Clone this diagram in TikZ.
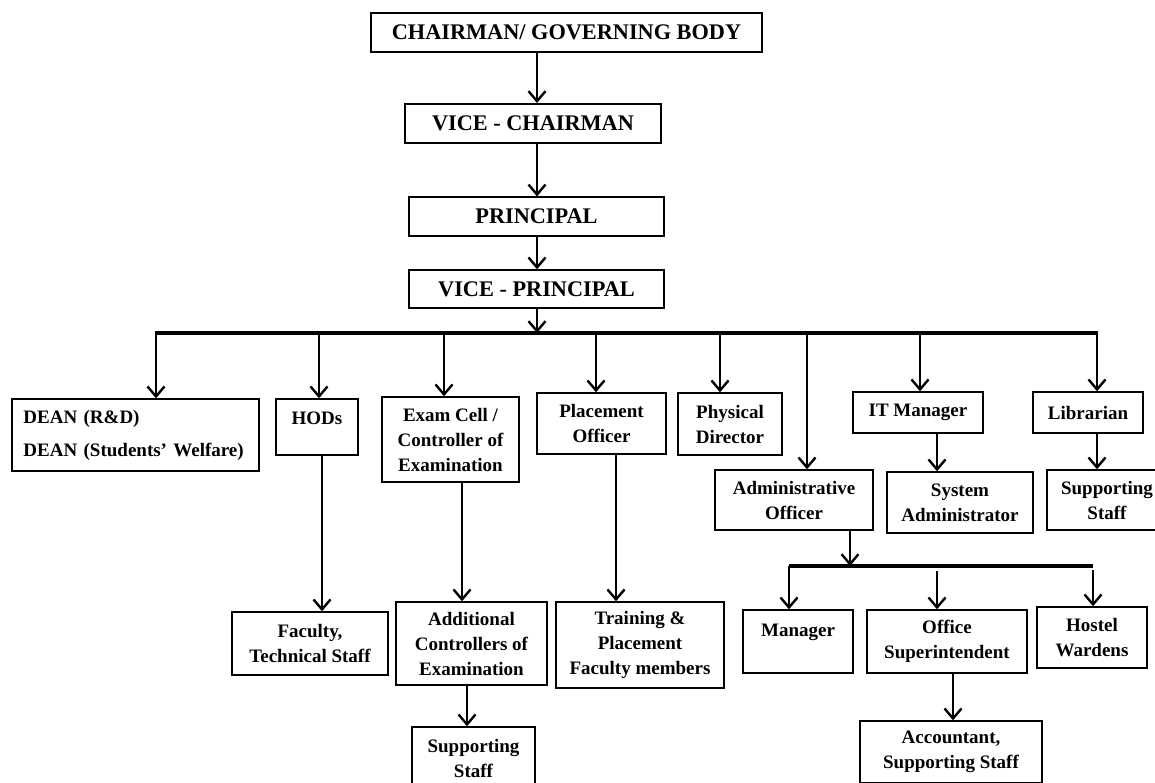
\documentclass[tikz,border=0pt]{standalone}
\usepackage{fontspec}
\setmainfont{Liberation Serif}
\usetikzlibrary{arrows.meta}
\begin{document}
\begin{tikzpicture}[x=1pt,y=-1pt,
  box/.style={draw, line width=1.4pt, inner sep=0pt, align=center,
    font=\bfseries\fontsize{19}{25}\selectfont},
  topbox/.style={box, font=\bfseries\fontsize{22.3}{26}\selectfont},
  arr/.style={line width=2.6pt, -{Straight Barb[length=10pt,width=17pt,line width=2.4pt]}},
  bus/.style={line width=3.2pt},
]
\useasboundingbox (0,0) rectangle (1155,782);
% top chain
\node[topbox, line width=2.6pt, minimum width=391, minimum height=39] (chair) at (566.5,32.5) {CHAIRMAN/ GOVERNING BODY};
\node[topbox, line width=2pt, minimum width=256, minimum height=39] (vchair) at (533,123.5) {VICE - CHAIRMAN};
\node[topbox, line width=1.2pt, minimum width=255, minimum height=39] (prin) at (536.5,216.5) {PRINCIPAL};
\node[topbox, line width=1.4pt, minimum width=255, minimum height=38] (vp) at (536.5,289) {VICE - PRINCIPAL};
% second row
\node[box, minimum width=247, minimum height=72, text width=232pt, align=left,
  font=\bfseries\fontsize{19}{33}\selectfont] (dean) at (135.5,435) {\hspace*{4pt}DEAN (R\&D)\\\hspace*{4pt}DEAN (Students’ Welfare)};
\node[box, minimum width=82, minimum height=56, text height=14pt, text depth=20pt] (hods) at (317,427) {HODs};
\node[box, minimum width=137, minimum height=85] (exam) at (450.5,439.5) {Exam Cell /\\Controller of\\Examination};
\node[box, minimum width=129, minimum height=61] (place) at (601.5,423.5) {Placement\\Officer};
\node[box, minimum width=104, minimum height=62] (phys) at (730,424) {Physical\\Director};
\node[box, minimum width=158, minimum height=60] (admin) at (794,500) {Administrative\\Officer};
\node[box, minimum width=130, minimum height=41] (itm) at (918,412.5) {IT Manager};
\node[box, minimum width=146, minimum height=61] (sysad) at (960,502.5) {System\\Administrator};
\node[box, minimum width=110, minimum height=41] (lib) at (1088,412.5) {Librarian};
\node[box, minimum width=120, minimum height=60] (suppR) at (1107,500) {Supporting\\Staff};
% third row
\node[box, minimum width=156, minimum height=63] (fac) at (310,643.5) {Faculty,\\Technical Staff};
\node[box, minimum width=151, minimum height=83] (addl) at (471.5,643.5) {Additional\\Controllers of\\Examination};
\node[box, minimum width=168, minimum height=86] (train) at (640,645) {Training \&\\Placement\\Faculty members};
\node[box, minimum width=123, minimum height=62] (suppB) at (473.5,758) {Supporting\\Staff};
\node[box, minimum width=110, minimum height=63, text height=14pt, text depth=24pt] (mgr) at (798,641.5) {Manager};
\node[box, minimum width=160, minimum height=63] (os) at (947,641.5) {Office\\Superintendent};
\node[box, minimum width=110, minimum height=61] (host) at (1092,637.5) {Hostel\\Wardens};
\node[box, minimum width=182, minimum height=62] (acct) at (951,752) {Accountant,\\Supporting Staff};
% top chain connectors
\coordinate (cx) at (537,0);
\draw[arr] (cx |- chair.south) -- (cx |- vchair.north);
\draw[arr] (cx |- vchair.south) -- (cx |- prin.north);
\draw[arr] (cx |- prin.south) -- (cx |- vp.north);
% main bus
\coordinate (busL) at (155,333);
\coordinate (busR) at (1098,333);
\draw[bus] (busL) -- (busR);
\draw[arr] (cx |- vp.south) -- (cx |- busL);
\coordinate (b1) at (156,333);
\coordinate (b2) at (319,333);
\coordinate (b3) at (444,333);
\coordinate (b4) at (596,333);
\coordinate (b5) at (720,333);
\coordinate (b6) at (807,333);
\coordinate (b7) at (920,333);
\coordinate (b8) at (1097,333);
\draw[arr] (b1) -- (b1 |- dean.north);
\draw[arr] (b2) -- (b2 |- hods.north);
\draw[arr] (b3) -- (b3 |- exam.north);
\draw[arr] (b4) -- (b4 |- place.north);
\draw[arr] (b5) -- (b5 |- phys.north);
\draw[arr] (b6) -- (b6 |- admin.north);
\draw[arr] (b7) -- (b7 |- itm.north);
\draw[arr] (b8) -- (b8 |- lib.north);
% lower connectors
\coordinate (c1) at (322,0);
\coordinate (c2) at (462,0);
\coordinate (c3) at (467,0);
\coordinate (c4) at (616,0);
\coordinate (c5) at (937,0);
\coordinate (c6) at (1097,0);
\coordinate (c7) at (850,0);
\coordinate (c8) at (953,0);
\draw[arr] (c1 |- hods.south) -- (c1 |- fac.north);
\draw[arr] (c2 |- exam.south) -- (c2 |- addl.north);
\draw[arr] (c3 |- addl.south) -- (c3 |- suppB.north);
\draw[arr] (c4 |- place.south) -- (c4 |- train.north);
\draw[arr] (c5 |- itm.south) -- (c5 |- sysad.north);
\draw[arr] (c6 |- lib.south) -- (c6 |- suppR.north);
\draw[arr] (c8 |- os.south) -- (c8 |- acct.north);
% admin sub-bus
\coordinate (sL) at (789,566);
\coordinate (sR) at (1093,566);
\coordinate (s2) at (937,571);
\coordinate (s3) at (1093,570);
\draw[arr] (c7 |- admin.south) -- (c7 |- sL);
\draw[bus] (sL) -- (sR);
\draw[arr] (sL) -- (sL |- mgr.north);
\draw[arr] (s2) -- (s2 |- os.north);
\draw[arr] (s3) -- (s3 |- host.north);
\end{tikzpicture}
\end{document}
